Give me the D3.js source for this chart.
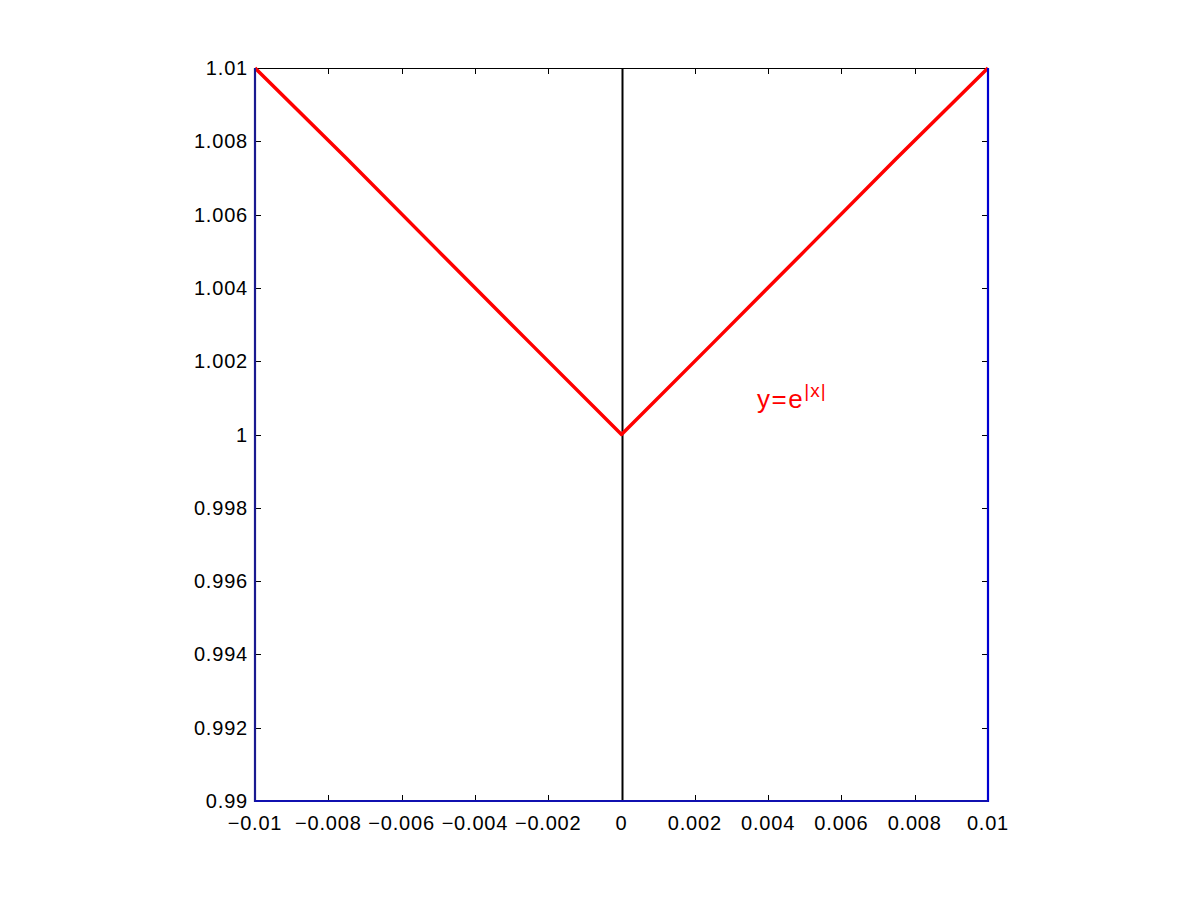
<!DOCTYPE html>
<html><head><meta charset="utf-8">
<script src="https://cdn.jsdelivr.net/npm/d3@7"></script>
<style>body{margin:0;background:#fff}svg{display:block}text{font-family:"Liberation Sans",Arial,sans-serif}</style>
</head><body>
<svg id="c" width="1201" height="901"></svg>
<script>
const xValues = [-0.01, -0.0075, -0.005, -0.0025, 0, 0.0025, 0.005, 0.0075, 0.01];
const yValues = [1.01005, 1.00753, 1.00501, 1.0025, 1, 1.0025, 1.00501, 1.00753, 1.01005];
const xTicks = [-0.01, -0.008, -0.006, -0.004, -0.002, 0, 0.002, 0.004, 0.006, 0.008, 0.01];
const yTicks = [0.99, 0.992, 0.994, 0.996, 0.998, 1, 1.002, 1.004, 1.006, 1.008, 1.01];
const xTickLabels = ["\u22120.01","\u22120.008","\u22120.006","\u22120.004","\u22120.002","0","0.002","0.004","0.006","0.008","0.01"];
const yTickLabels = ["0.99","0.992","0.994","0.996","0.998","1","1.002","1.004","1.006","1.008","1.01"];
const curveLabel = {base: "y=e", sup: "|x|", x: 0.0037, y: 1.0008};

const svg = d3.select("#c");
const L = 255, R = 988, T = 68, B = 801;
const x = d3.scaleLinear().domain([-0.01, 0.01]).range([L, R]);
const y = d3.scaleLinear().domain([0.99, 1.01]).range([B, T]);

// top border
svg.append("line").attr("x1", L).attr("x2", R).attr("y1", T + 0.5).attr("y2", T + 0.5).attr("stroke", "#000").attr("stroke-width", 1);

// ticks
const tl = 6;
xTicks.forEach(v => {
  const px = Math.round(x(v)) + 0.5;
  svg.append("line").attr("x1", px).attr("x2", px).attr("y1", T).attr("y2", T + tl).attr("stroke", "#000");
  svg.append("line").attr("x1", px).attr("x2", px).attr("y1", B).attr("y2", B - tl).attr("stroke", "#000");
});
yTicks.forEach(v => {
  const py = Math.round(y(v)) + 0.5;
  svg.append("line").attr("x1", L).attr("x2", L + tl).attr("y1", py).attr("y2", py).attr("stroke", "#000");
  svg.append("line").attr("x1", R).attr("x2", R - tl).attr("y1", py).attr("y2", py).attr("stroke", "#000");
});

// vertical line at x=0
svg.append("line").attr("x1", Math.round(x(0)) + 0.5).attr("x2", Math.round(x(0)) + 0.5)
  .attr("y1", T).attr("y2", B).attr("stroke", "#000").attr("stroke-width", 2);

// curve
svg.append("path").datum(xValues.map((v, i) => [v, yValues[i]]))
  .attr("d", d3.line().x(d => x(d[0])).y(d => y(Math.min(d[1], 1.01))))
  .attr("fill", "none").attr("stroke", "#f00").attr("stroke-width", 3.5).attr("stroke-linejoin", "round");

// axes (blue)
svg.append("line").attr("x1", L).attr("x2", L).attr("y1", T).attr("y2", B + 1).attr("stroke", "#1a1a90").attr("stroke-width", 2.2);
svg.append("line").attr("x1", R).attr("x2", R).attr("y1", T).attr("y2", B + 1).attr("stroke", "#0000d0").attr("stroke-width", 2.2);
svg.append("line").attr("x1", L).attr("x2", R).attr("y1", B).attr("y2", B).attr("stroke", "#1010b0").attr("stroke-width", 2.2);

// tick labels
xTicks.forEach((v, i) => {
  svg.append("text").attr("x", x(v)).attr("y", 830).attr("text-anchor", "middle")
    .attr("font-size", 20).attr("letter-spacing", 0.8).attr("fill", "#000").text(xTickLabels[i]);
});
yTicks.forEach((v, i) => {
  svg.append("text").attr("x", 248).attr("y", y(v) + 7).attr("text-anchor", "end")
    .attr("font-size", 20).attr("letter-spacing", 0.8).attr("fill", "#000").text(yTickLabels[i]);
});

// label
const t = svg.append("text").attr("x", x(curveLabel.x)).attr("y", 408).attr("fill", "#f00").attr("font-size", 26).attr("letter-spacing", 1.5);
t.append("tspan").text(curveLabel.base);
t.append("tspan").attr("font-size", 19).attr("dy", -11).attr("letter-spacing", 1).text(curveLabel.sup);
</script>
</body></html>
